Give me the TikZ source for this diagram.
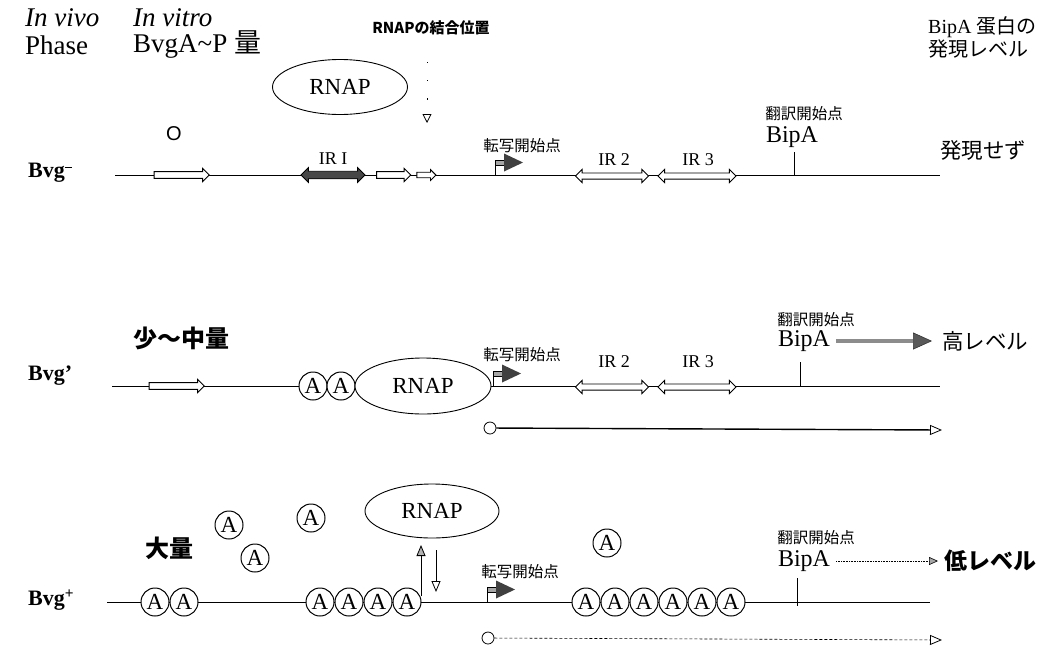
\documentclass[tikz,border=0pt]{standalone}
\usepackage{fontspec}
\setmainfont{Liberation Serif}
\newfontfamily\jpf{Noto Sans CJK JP}
\newfontfamily\sansf{Liberation Sans}
\usetikzlibrary{shapes.geometric,shapes.arrows,arrows.meta}
\begin{document}
\begin{tikzpicture}[x=1pt,y=-1pt,
  dna/.style={line width=0.9pt},
  fwdarrow/.style={single arrow, draw, fill=white, line width=0.9pt, inner xsep=0pt, inner ysep=2.9pt, single arrow head extend=3.2pt},
  irdark/.style={double arrow, draw, fill=black!72, line width=0.9pt, inner xsep=0pt, inner ysep=3.3pt, double arrow head extend=3.6pt},
  iropen/.style={double arrow, draw, fill=white, line width=0.9pt, inner xsep=0pt, inner ysep=2.6pt, double arrow head extend=3.6pt},
  abox/.style={circle, draw, fill=white, line width=1pt, minimum size=28pt, inner sep=0pt, font=\fontsize{23}{23}\selectfont},
  rnap/.style={ellipse, draw, fill=white, line width=0.9pt, minimum width=135pt, minimum height=55pt, inner sep=0pt, font=\fontsize{23}{23}\selectfont},
  lbl/.style={inner sep=0pt},
  head/.style={lbl, anchor=west, font=\fontsize{27}{27}\selectfont},
  big/.style={lbl, font=\fontsize{24}{24}\selectfont},
  irlabel/.style={lbl, font=\fontsize{18}{18}\selectfont},
  bvg/.style={lbl, anchor=west, font=\fontsize{22}{22}\selectfont\bfseries},
  tsl/.style={lbl, font=\jpf\fontsize{15.5}{15.5}\selectfont},
  jpbig/.style={lbl, anchor=west, font=\jpf\fontsize{24}{24}\selectfont\bfseries},
  jplevel/.style={lbl, anchor=west, font=\jpf\fontsize{21.5}{21.5}\selectfont},
  tick/.style={line width=0.8pt},
  tx/.style={line width=1.4pt},
  opentip/.style={-{Triangle[open, length=12pt, width=10pt, line width=0.8pt]}},
  prom/.pic={
    \draw[line width=0.9pt] (0,0) -- (0,-12);
    \draw[line width=0.8pt, fill=black!35] (0,-15) rectangle (10,-10);
    \fill[black!75] (9,-21.5) -- (9,-3.5) -- (28,-12.5) -- cycle;
  }
]
\useasboundingbox (0,0) rectangle (1040,646);

% ---------------- header ----------------
\node[head] (hv1) at (25,18) {\itshape In vivo};
\node[head] (hv2) at (25,45) {Phase};
\node[head] (ht1) at (133,18) {\itshape In vitro};
\node[head] (ht2) at (133,45) {BvgA\textasciitilde P {\jpf 量}};
\node[lbl, font=\jpf\fontsize{15}{15}\selectfont\bfseries] (hbind) at (431,28) {RNAPの結合位置};
\node[lbl, anchor=west, font=\fontsize{20}{20}\selectfont] (hb1) at (928,27) {BipA {\jpf 蛋白の}};
\node[lbl, anchor=west, font=\jpf\fontsize{20}{20}\selectfont] (hb2) at (928,49) {発現レベル};

% ---------------- row 1 : Bvg- ----------------
\node[bvg] (bvg1) at (28,173) {Bvg\textsuperscript{\rule[0.35ex]{0.45em}{0.12ex}}};
\node[lbl, font=\sansf\fontsize{20}{20}\selectfont] (o1) at (174,134) {O};
\node[rnap] (rnap1) at (340,87) {RNAP};
\coordinate (dot1s) at (427,62);
\coordinate (dot1e) at (427,123);
\draw[line width=0.8pt, dash pattern=on 1.2pt off 17pt, -{Triangle[open, length=9pt, width=9pt, line width=0.8pt]}] (dot1s) -- (dot1e);

\coordinate (r1s) at (115,175);
\coordinate (r1e) at (940,175);
\draw[dna] (r1s) -- (r1e);
\node[fwdarrow, minimum height=55pt] (r1a1) at (180,175) {};
\node[irdark, minimum height=64pt] (ir1) at (333,175) {};
\node[irlabel] (ir1l) at (333,159) {IR I};
\node[fwdarrow, minimum height=34pt] (r1a2) at (392,175) {};
\node[fwdarrow, minimum height=19pt, inner ysep=2.3pt, single arrow head extend=2.6pt] (r1a3) at (425,175) {};
\pic at (495,175) {prom};
\node[tsl] (ts1) at (522,146) {転写開始点};
\node[iropen, minimum height=73pt] (ir2a) at (612,176) {};
\node[irlabel] (ir2al) at (614,160) {IR 2};
\node[iropen, minimum height=78pt] (ir3a) at (697,176) {};
\node[irlabel] (ir3al) at (698,160) {IR 3};
\coordinate (tk1) at (794,152);
\coordinate (tk1b) at (794,175);
\draw[tick] (tk1) -- (tk1b);
\node[tsl] (tl1) at (804,114) {翻訳開始点};
\node[big] (bip1) at (792,137) {BipA};
\node[jplevel] (lev1) at (940,150) {発現せず};

% ---------------- row 2 : Bvg' ----------------
\node[bvg] (bvg2) at (28,376) {Bvg'};
\node[jpbig] (amt2) at (133,338) {少〜中量};
\coordinate (r2s) at (112,386);
\coordinate (r2e) at (940,386);
\draw[dna] (r2s) -- (r2e);
\node[fwdarrow, minimum height=55pt] (r2a1) at (175,386) {};
\node[abox] (a21) at (313,386) {A};
\node[abox] (a22) at (341,386) {A};
\node[rnap, minimum width=136pt, minimum height=56pt] (rnap2) at (423,386) {RNAP};
\pic at (493,386) {prom};
\node[tsl] (ts2) at (522,355) {転写開始点};
\node[iropen, minimum height=73pt] (ir2b) at (612,387) {};
\node[irlabel] (ir2bl) at (614,362) {IR 2};
\node[iropen, minimum height=78pt] (ir3b) at (697,387) {};
\node[irlabel] (ir3bl) at (698,362) {IR 3};
\coordinate (tk2) at (800,362);
\coordinate (tk2b) at (800,386);
\draw[tick] (tk2) -- (tk2b);
\node[tsl] (tl2) at (816,320) {翻訳開始点};
\node[big] (bip2) at (804,341) {BipA};
\node[jplevel] (lev2) at (942,341) {高レベル};
\draw[line width=4pt, draw=black!45, -{Triangle[length=19pt, width=17pt, fill=black!65, color=black!80, line width=0.6pt]}] ([xshift=6pt]bip2.east) -- ([xshift=-10pt]lev2.west);
\node[circle, draw, line width=0.8pt, minimum size=12pt, inner sep=0pt] (tc2) at (490,428) {};
\coordinate (te2) at (942,430);
\draw[tx, opentip] (tc2) -- (te2);

% ---------------- row 3 : Bvg+ ----------------
\node[bvg] (bvg3) at (28,600) {Bvg\textsuperscript{+}};
\node[jpbig] (amt3) at (145,548) {大量};
\node[abox] (fa1) at (229,525) {A};
\node[abox] (fa2) at (311,518) {A};
\node[abox] (fa3) at (255,558) {A};
\node[abox] (fa4) at (607,543) {A};
\node[rnap, minimum width=134pt, minimum height=54pt] (rnap3) at (432,511) {RNAP};
\coordinate (r3s) at (107,602);
\coordinate (r3e) at (930,602);
\draw[dna] (r3s) -- (r3e);
\node[abox] (a31) at (155,602) {A};
\node[abox] (a32) at (184,602) {A};
\node[abox] (a33) at (320,602) {A};
\node[abox] (a34) at (349,602) {A};
\node[abox] (a35) at (378,602) {A};
\node[abox] (a36) at (407,602) {A};
\node[abox] (a37) at (586,602) {A};
\node[abox] (a38) at (615,602) {A};
\node[abox] (a39) at (644,602) {A};
\node[abox] (a310) at (673,602) {A};
\node[abox] (a311) at (702,602) {A};
\node[abox] (a312) at (731,602) {A};
\coordinate (up1) at (421,596);
\coordinate (up2) at (421,545);
\draw[line width=0.8pt, -{Triangle[length=11pt, width=9pt, fill=black!30, line width=0.8pt]}] (up1) -- (up2);
\coordinate (dn1) at (436,550);
\coordinate (dn2) at (436,592);
\draw[line width=0.8pt, -{Triangle[open, length=11pt, width=9pt, line width=0.8pt]}] (dn1) -- (dn2);
\pic at (487,602) {prom};
\node[tsl] (ts3) at (520,572) {転写開始点};
\coordinate (tk3) at (797,578);
\coordinate (tk3b) at (797,606);
\draw[tick] (tk3) -- (tk3b);
\node[tsl] (tl3) at (816,538) {翻訳開始点};
\node[big] (bip3) at (804,561) {BipA};
\node[lbl, anchor=west, font=\jpf\fontsize{23}{23}\selectfont\bfseries] (lev3) at (944,561) {低レベル};
\draw[line width=0.6pt, densely dotted, -{Triangle[length=9pt, width=8pt, fill=black!35, line width=0.6pt]}] ([xshift=6pt]bip3.east) -- ([xshift=-6pt]lev3.west);
\node[circle, draw, line width=0.8pt, minimum size=12pt, inner sep=0pt] (tc3) at (488,638) {};
\coordinate (te3) at (942,640);
\draw[line width=0.6pt, densely dashed, opentip] (tc3) -- (te3);
\end{tikzpicture}
\end{document}
